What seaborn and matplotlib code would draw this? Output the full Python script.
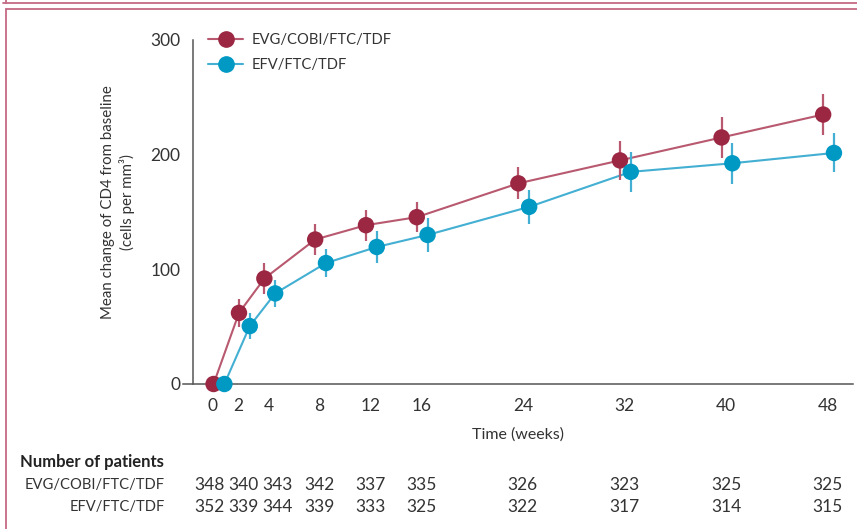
import matplotlib
matplotlib.use("Agg")
import matplotlib.pyplot as plt
import matplotlib.transforms as mtrans
from matplotlib.lines import Line2D
import seaborn as sns
import pandas as pd
import numpy as np

# ---------------- data ----------------
weeks = [0, 2, 4, 8, 12, 16, 24, 32, 40, 48]
evg_mean = [0, 62, 92, 126, 138.5, 145.5, 175, 195, 215, 235]
evg_err = [0, 12, 13.5, 13.5, 13.5, 13, 14, 17, 18, 18]
efv_mean = [0, 50.5, 79, 105.5, 119.5, 130, 154.5, 185, 192.5, 201.5]
efv_err = [0, 11, 11.5, 12.5, 14, 14.5, 15, 17.5, 18, 17]
arm_names = ["EVG/COBI/FTC/TDF", "EFV/FTC/TDF"]
n_evg = [348, 340, 343, 342, 337, 335, 326, 323, 325, 325]
n_efv = [352, 339, 344, 339, 333, 325, 322, 317, 314, 315]
xtick_labels = ["0", "2", "4", "8", "12", "16", "24", "32", "40", "48"]
yticks = [0, 100, 200, 300]

# ---------------- style ----------------
sns.set_theme(style="white")
plt.rcParams["font.family"] = ["Lato", "DejaVu Sans"]
TXT = "#333333"
AX = "#555555"
C_EVG = "#9b2743"
C_EFV = "#0099c4"
L_EVG = "#b8596f"
L_EFV = "#43afd2"
dodge = {arm_names[0]: -0.35, arm_names[1]: 0.5}
FS_NUM = 12.5
FS_LAB = 10.6

W, H = 857, 529
fig = plt.figure(figsize=(W / 100, H / 100), dpi=100)
ax = fig.add_axes([193 / W, 1 - 384 / H, (853 - 193) / W, (384 - 40) / H])

df = pd.DataFrame({
    "week": weeks * 2,
    "mean": evg_mean + efv_mean,
    "err": evg_err + efv_err,
    "arm": [arm_names[0]] * len(weeks) + [arm_names[1]] * len(weeks),
})
df["xpos"] = df["week"] + df["arm"].map(dodge)

# lines
sns.lineplot(data=df, x="xpos", y="mean", hue="arm", palette=[L_EVG, L_EFV],
             hue_order=arm_names, ax=ax, legend=False, linewidth=1.5,
             zorder=2, clip_on=False)
# error bars
for arm, col in zip(arm_names, [L_EVG, L_EFV]):
    d = df[df["arm"] == arm]
    ax.errorbar(d["xpos"], d["mean"], yerr=d["err"], fmt="none",
                ecolor=col, elinewidth=1.6, capsize=0, zorder=3, clip_on=False)
# markers
sns.scatterplot(data=df, x="xpos", y="mean", hue="arm", palette=[C_EVG, C_EFV],
                hue_order=arm_names, ax=ax, legend=False, s=140,
                edgecolor="none", zorder=4, clip_on=False)

ax.set_xlim(-1.97, 50)
ax.set_ylim(0, 300)
ax.set_xlabel("")
ax.set_ylabel("")

for s in ["top", "right"]:
    ax.spines[s].set_visible(False)
for s in ["left", "bottom"]:
    ax.spines[s].set_color(AX)
    ax.spines[s].set_linewidth(1.1)
ax.spines["bottom"].set_bounds(-2.75, 50)

all_ticks = list(range(0, 50, 2))
lab_map = dict(zip(weeks, xtick_labels))
ax.set_xticks(all_ticks)
ax.set_xticklabels([lab_map.get(t, "") for t in all_ticks])
ax.set_yticks(yticks)
ax.set_yticklabels([str(v) for v in yticks])
ax.tick_params(axis="both", which="major", direction="out", length=6,
               width=1.1, color=AX, labelcolor=TXT, labelsize=FS_NUM)
ax.tick_params(axis="x", pad=4)
ax.tick_params(axis="y", pad=3)

# nudge crowded labels near zero
nudges_px = {"0": -6, "2": -5}
for lab in ax.get_xticklabels():
    t = lab.get_text()
    if t in nudges_px:
        lab.set_transform(lab.get_transform() +
                          mtrans.ScaledTranslation(nudges_px[t] / 100, 0, fig.dpi_scale_trans))

# legend
handles = [Line2D([], [], color=L_EVG, lw=1.5, marker="o", markersize=11,
                  markerfacecolor=C_EVG, markeredgecolor=C_EVG),
           Line2D([], [], color=L_EFV, lw=1.5, marker="o", markersize=11,
                  markerfacecolor=C_EFV, markeredgecolor=C_EFV)]
leg = fig.legend(handles, arm_names, loc="upper left",
                 bbox_to_anchor=(208 / W, 1 - 33 / H), frameon=False,
                 fontsize=FS_LAB, handlelength=2.4, handletextpad=0.55,
                 labelspacing=0.75, borderaxespad=0, borderpad=0)
for t in leg.get_texts():
    t.set_color(TXT)

# axis labels
fig.text(118 / W, 1 - 202 / H, "Mean change of CD4 from baseline\n(cells per mm³)",
         rotation=90, ha="center", va="center", multialignment="center",
         fontsize=10.8, color=TXT, linespacing=1.25)
fig.text(518 / W, 1 - 435 / H, "Time (weeks)", ha="center", va="center",
         fontsize=11.5, color=TXT)

# number at risk table
fig.text(20 / W, 1 - 462 / H, "Number of patients", ha="left", va="center",
         fontsize=12, fontweight="bold", color="#222222")
fig.text(165 / W, 1 - 485 / H, arm_names[0], ha="right", va="center",
         fontsize=FS_LAB, color=TXT)
fig.text(165 / W, 1 - 507 / H, arm_names[1], ha="right", va="center",
         fontsize=FS_LAB, color=TXT)
tr = mtrans.blended_transform_factory(ax.transData, fig.transFigure)
table_nudge = {0: -0.7, 4: 0.7}
for w, a, b in zip(weeks, n_evg, n_efv):
    xp = w + table_nudge.get(w, 0)
    fig.text(xp, 1 - 485 / H, str(a), transform=tr, ha="center", va="center",
             fontsize=FS_NUM, color=TXT)
    fig.text(xp, 1 - 507 / H, str(b), transform=tr, ha="center", va="center",
             fontsize=FS_NUM, color=TXT)

# panel frame
FR = "#c46a84"
fig.add_artist(Line2D([3 / W, 1], [1 - 2.5 / H, 1 - 2.5 / H], color=FR, lw=1.3,
                      transform=fig.transFigure))
fig.add_artist(Line2D([5.5 / W, 5.5 / W], [1, 1 - 2.5 / H], color=FR, lw=1.3,
                      transform=fig.transFigure))
fig.add_artist(Line2D([5.5 / W, 1], [1 - 9 / H, 1 - 9 / H], color=FR, lw=1.3,
                      transform=fig.transFigure))
fig.add_artist(Line2D([5.5 / W, 5.5 / W], [1 - 9 / H, 0], color=FR, lw=1.3,
                      transform=fig.transFigure))

fig.savefig("out.png", dpi=100)
